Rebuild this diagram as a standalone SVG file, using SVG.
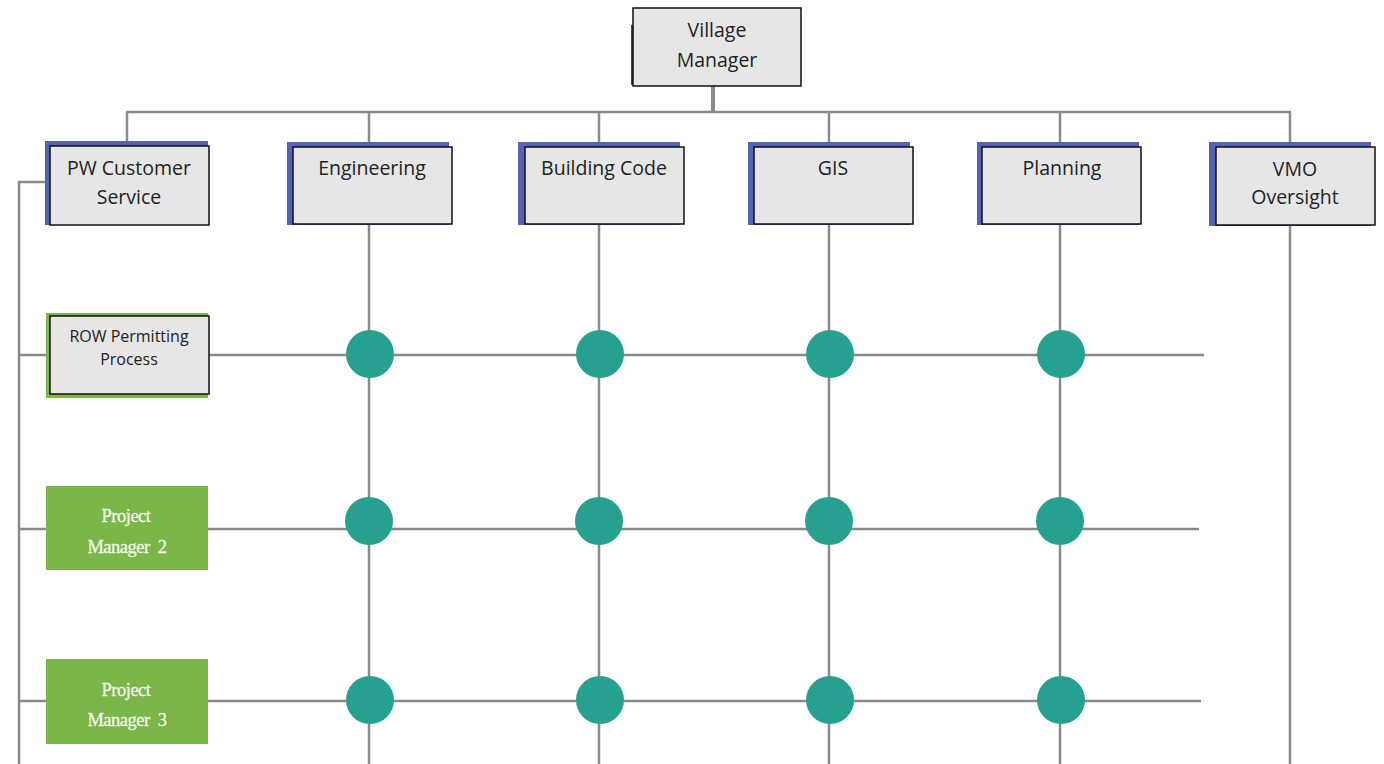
<svg xmlns="http://www.w3.org/2000/svg" width="1384" height="764" viewBox="0 0 1384 764">
<style>
.ln{stroke:#8a8a8a;stroke-width:2.5;fill:none}
.box{fill:#e6e6e6;stroke:#111;stroke-width:1.5}
.sh{fill:#5561b3}
.gsh{fill:#7ab648}
.pm{fill:#7ab648}
.t{font-family:"Open Sans","Noto Sans",sans-serif;font-size:19.5px;fill:#222;text-anchor:middle}
.ts{font-family:"Open Sans","Noto Sans",sans-serif;font-size:16px;fill:#222;text-anchor:middle}
.tp{font-family:"Liberation Serif","Times New Roman",serif;font-size:18.5px;fill:#f2f7ea;stroke:#f2f7ea;stroke-width:0.3;text-anchor:middle;letter-spacing:-0.5px}
.dot{fill:#26a08f}
</style>
<rect width="1384" height="764" fill="#fff"/>
<g id="connectors">
  <line class="ln" x1="713" y1="86" x2="713" y2="112" style="stroke-width:4"/>
  <line class="ln" x1="126" y1="112" x2="1291" y2="112"/>
  <line class="ln" x1="127" y1="112" x2="127" y2="146"/>
  <line class="ln" x1="369" y1="112" x2="369" y2="764"/>
  <line class="ln" x1="599" y1="112" x2="599" y2="764"/>
  <line class="ln" x1="829" y1="112" x2="829" y2="764"/>
  <line class="ln" x1="1060" y1="112" x2="1060" y2="764"/>
  <line class="ln" x1="1290" y1="112" x2="1290" y2="764"/>
  <polyline class="ln" points="50,182 19,182 19,764"/>
  <line class="ln" x1="19" y1="355" x2="1204" y2="355"/>
  <line class="ln" x1="19" y1="529" x2="1199" y2="529"/>
  <line class="ln" x1="19" y1="701" x2="1201" y2="701"/>
</g>
<g id="village-manager">
  <rect x="631" y="25" width="3" height="60" fill="#444"/>
  <rect class="box" x="633" y="8" width="168" height="78"/>
  <text class="t" x="717" y="37">Village</text>
  <text class="t" x="717" y="67">Manager</text>
</g>
<g id="pw-customer-service">
  <rect class="sh" x="45" y="141" width="163" height="84"/>
  <rect class="box" x="50" y="146" width="159" height="79"/>
  <text class="t" x="129" y="175">PW Customer</text>
  <text class="t" x="129" y="204">Service</text>
</g>
<g id="engineering">
  <rect class="sh" x="287" y="142" width="162" height="83"/>
  <rect class="box" x="293" y="147" width="159" height="77"/>
  <text class="t" x="372" y="175">Engineering</text>
</g>
<g id="building-code">
  <rect class="sh" x="518" y="142" width="162" height="83"/>
  <rect class="box" x="525" y="147" width="159" height="77"/>
  <text class="t" x="604" y="175">Building Code</text>
</g>
<g id="gis">
  <rect class="sh" x="748" y="142" width="162" height="83"/>
  <rect class="box" x="754" y="147" width="159" height="77"/>
  <text class="t" x="833" y="175">GIS</text>
</g>
<g id="planning">
  <rect class="sh" x="977" y="142" width="162" height="83"/>
  <rect class="box" x="982" y="147" width="159" height="77"/>
  <text class="t" x="1062" y="175">Planning</text>
</g>
<g id="vmo-oversight">
  <rect class="sh" x="1209" y="142" width="162" height="84"/>
  <rect class="box" x="1216" y="147" width="159" height="78"/>
  <text class="t" x="1295" y="176">VMO</text>
  <text class="t" x="1295" y="204">Oversight</text>
</g>
<g id="row-permitting">
  <rect class="gsh" x="46" y="313" width="162" height="85"/>
  <rect class="box" x="50" y="316" width="159" height="78"/>
  <text class="ts" x="129" y="342">ROW Permitting</text>
  <text class="ts" x="129" y="365">Process</text>
</g>
<g id="project-manager-2">
  <rect class="pm" x="46" y="486" width="162" height="84"/>
  <text class="tp" x="126" y="522">Project</text>
  <text class="tp" x="127" y="553" xml:space="preserve">Manager  2</text>
</g>
<g id="project-manager-3">
  <rect class="pm" x="46" y="659" width="162" height="85"/>
  <text class="tp" x="126" y="696">Project</text>
  <text class="tp" x="127" y="726" xml:space="preserve">Manager  3</text>
</g>
<g id="markers">
  <circle class="dot" cx="370" cy="354" r="24"/>
  <circle class="dot" cx="600" cy="354" r="24"/>
  <circle class="dot" cx="830" cy="354" r="24"/>
  <circle class="dot" cx="1061" cy="354" r="24"/>
  <circle class="dot" cx="369" cy="521" r="24"/>
  <circle class="dot" cx="599" cy="521" r="24"/>
  <circle class="dot" cx="829" cy="521" r="24"/>
  <circle class="dot" cx="1060" cy="521" r="24"/>
  <circle class="dot" cx="370" cy="700" r="24"/>
  <circle class="dot" cx="600" cy="700" r="24"/>
  <circle class="dot" cx="830" cy="700" r="24"/>
  <circle class="dot" cx="1061" cy="700" r="24"/>
</g>
</svg>
